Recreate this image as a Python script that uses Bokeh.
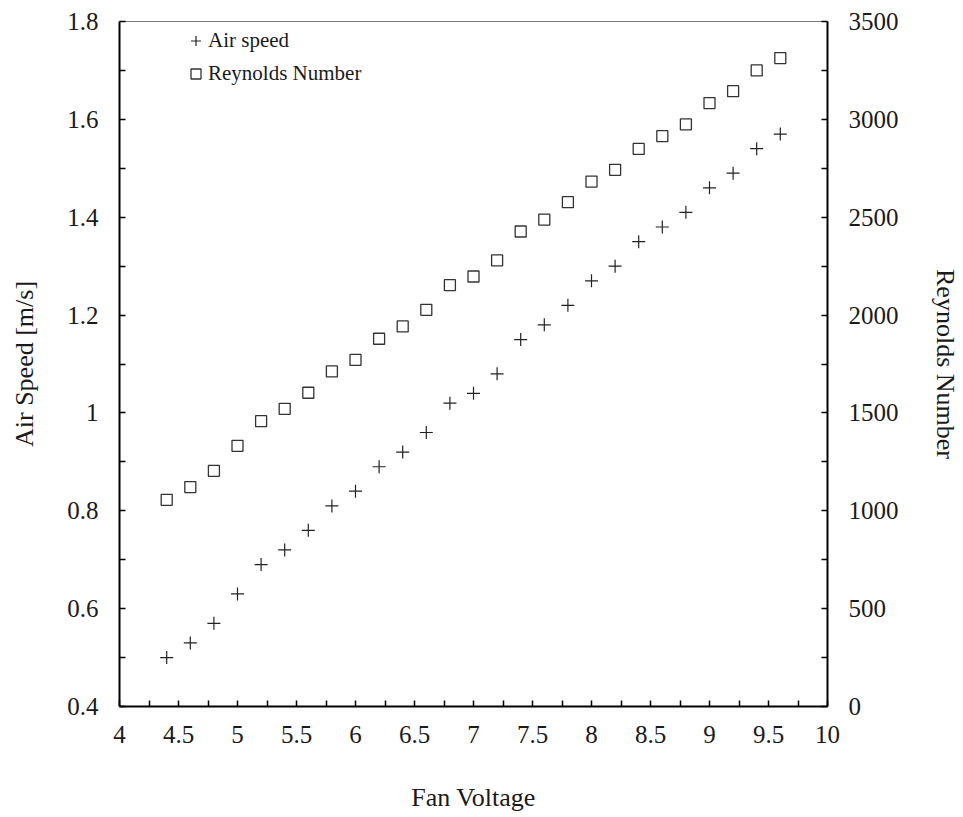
from bokeh.plotting import figure
from bokeh.models import (Range1d, LinearAxis, FixedTicker, Legend, LegendItem,
                          ColumnDataSource)
from bokeh.embed import file_html
from bokeh.resources import INLINE

# Measurements: fan voltage vs. air speed and Reynolds number
fan_voltage = [4.4, 4.6, 4.8, 5.0, 5.2, 5.4, 5.6, 5.8, 6.0, 6.2, 6.4, 6.6, 6.8, 7.0,
               7.2, 7.4, 7.6, 7.8, 8.0, 8.2, 8.4, 8.6, 8.8, 9.0, 9.2, 9.4, 9.6]
air_speed = [0.50, 0.53, 0.57, 0.63, 0.69, 0.72, 0.76, 0.81, 0.84, 0.89, 0.92, 0.96,
             1.02, 1.04, 1.08, 1.15, 1.18, 1.22, 1.27, 1.30, 1.35, 1.38, 1.41, 1.46,
             1.49, 1.54, 1.57]
reynolds = [1056, 1121, 1204, 1332, 1458, 1521, 1603, 1712, 1771, 1879, 1942, 2027,
            2153, 2197, 2279, 2427, 2488, 2577, 2682, 2742, 2849, 2914, 2974, 3083,
            3144, 3250, 3313]

x_ticks = [4, 4.5, 5, 5.5, 6, 6.5, 7, 7.5, 8, 8.5, 9, 9.5, 10]
x_tick_labels = ["4", "4.5", "5", "5.5", "6", "6.5", "7", "7.5", "8", "8.5", "9", "9.5", "10"]
y_ticks = [0.4, 0.6, 0.8, 1.0, 1.2, 1.4, 1.6, 1.8]
y_tick_labels = ["0.4", "0.6", "0.8", "1", "1.2", "1.4", "1.6", "1.8"]
re_ticks = [0, 500, 1000, 1500, 2000, 2500, 3000, 3500]
re_tick_labels = ["0", "500", "1000", "1500", "2000", "2500", "3000", "3500"]

FONT = "Liberation Serif"
TEXT = "#1a1a1a"

source = ColumnDataSource(dict(v=fan_voltage, u=air_speed, re=reynolds))

p = figure(width=963, height=817, output_backend="svg", toolbar_location=None,
           x_range=Range1d(4, 10), y_range=Range1d(0.4, 1.8),
           min_border_left=119, min_border_right=136,
           min_border_top=21, min_border_bottom=111)
p.extra_y_ranges = {"re": Range1d(0, 3500)}
p.grid.visible = False
p.background_fill_color = "white"
p.border_fill_color = "white"
p.outline_line_color = "#777777"
p.outline_line_width = 1


def midpoints(ticks):
    return [(a + b) / 2 for a, b in zip(ticks[:-1], ticks[1:])]


p.xaxis.ticker = FixedTicker(ticks=x_ticks, minor_ticks=midpoints(x_ticks))
p.xaxis.major_label_overrides = dict(zip(x_ticks, x_tick_labels))
p.xaxis.axis_label = "Fan Voltage"

p.yaxis.ticker = FixedTicker(ticks=y_ticks, minor_ticks=midpoints(y_ticks))
p.yaxis.major_label_overrides = dict(zip(y_ticks, y_tick_labels))
p.yaxis.axis_label = "Air Speed [m/s]"

right = LinearAxis(y_range_name="re", axis_label="Reynolds Number")
right.ticker = FixedTicker(ticks=re_ticks, minor_ticks=midpoints(re_ticks))
right.major_label_overrides = dict(zip(re_ticks, re_tick_labels))
p.add_layout(right, "right")

for ax in [p.xaxis[0], p.yaxis[0], right]:
    ax.axis_line_color = "black"
    ax.axis_line_width = 2
    ax.major_tick_in = 6
    ax.major_tick_out = 0
    ax.minor_tick_in = 6
    ax.minor_tick_out = 0
    ax.major_tick_line_color = "black"
    ax.minor_tick_line_color = "black"
    ax.major_tick_line_width = 1.5
    ax.minor_tick_line_width = 1.5
    ax.major_label_text_font = FONT
    ax.major_label_text_font_size = "25px"
    ax.major_label_text_color = TEXT
    ax.major_label_standoff = 21
    ax.axis_label_text_font = FONT
    ax.axis_label_text_font_size = "26px"
    ax.axis_label_text_font_style = "normal"
    ax.axis_label_text_color = TEXT

p.xaxis.major_label_standoff = 19
p.xaxis.axis_label_standoff = 37
p.yaxis.axis_label_standoff = 25
right.axis_label_standoff = 29

r_air = p.scatter("v", "u", source=source, marker="cross", size=13,
                  line_color="#222222", line_width=1.2)
r_re = p.scatter("v", "re", source=source, marker="square", size=11,
                 fill_color=None, line_color="#333333", line_width=1.3,
                 y_range_name="re")

legend = Legend(items=[LegendItem(label="Air speed", renderers=[r_air]),
                       LegendItem(label="Reynolds Number", renderers=[r_re])],
                location=(64, 620), orientation="vertical",
                glyph_width=25, glyph_height=25, label_height=25,
                spacing=8, padding=0, margin=0, label_standoff=0,
                label_text_font=FONT, label_text_font_size="21px",
                label_text_color=TEXT,
                background_fill_alpha=0, border_line_alpha=0)
p.add_layout(legend)

open("out.html", "w").write(file_html(p, INLINE))
